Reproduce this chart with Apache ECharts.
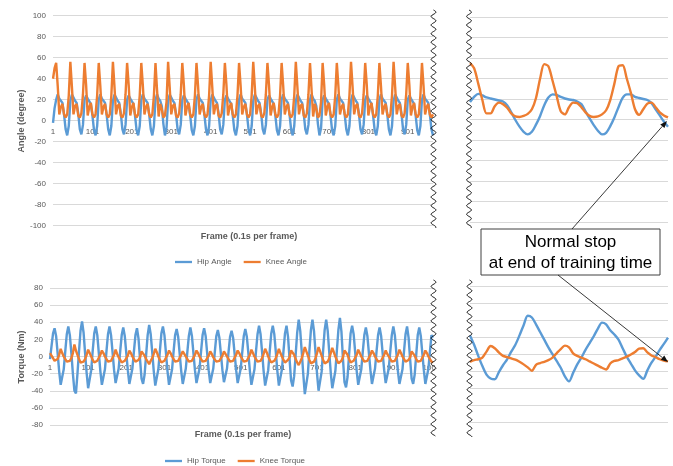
<!DOCTYPE html>
<html><head><meta charset="utf-8">
<script src="https://cdn.jsdelivr.net/npm/echarts@6/dist/echarts.min.js"></script>
<style>html,body{margin:0;padding:0;background:#fff}#c{width:673px;height:466px}</style>
</head><body><div id="c"></div>
<script>
// ---------- DATA ----------
// long-run panels: one sample every 4 frames (frame = 1 + 4*i)
const topTickLabels = ['1','101','201','301','401','501','601','701','801','901'];
const botTickLabels = ['1','101','201','301','401','501','601','701','801','901','1001'];
const topCount = 242, botCount = 252;

const hipAngle = [
 -2,12,
 20,25,21,19,17,6,-8,-14,-5, 19,25,22,19,17,7,-8,-13,-4, 20,24,21,20,16,5,-9,-14,-5,
 20,25,21,19,17,6,-8,-14,-5, 19,25,22,19,17,7,-8,-13,-4, 20,24,21,20,16,5,-9,-14,-5,
 20,25,21,19,17,6,-8,-14,-5, 20,25,21,19,14,-3,-14,-7,
 19,25,22,19,17,7,-8,-13,-4, 20,24,21,20,16,5,-9,-14,-5, 20,25,21,19,17,6,-8,-14,-5,
 19,25,22,19,17,7,-8,-13,-4, 20,24,21,20,16,5,-9,-14,-5, 20,25,21,19,17,6,-8,-14,-5,
 19,25,22,19,17,7,-8,-13,-4, 20,24,21,20,16,5,-9,-14,-5, 20,25,21,19,17,6,-8,-14,-5,
 19,25,22,19,17,7,-8,-13,-4, 20,25,21,19,14,-3,-14,-7,
 20,24,21,20,16,5,-9,-14,-5, 20,25,21,19,17,6,-8,-14,-5, 19,25,22,19,17,7,-8,-13,-4,
 20,24,21,20,16,5,-9,-14,-5, 20,25,21,19,17,6,-8,-14,-5, 19,25,22,19,17,7,-8,-13,-4,
 20,24,21,20,16,5,-9,-14,-5, 20,25,21,19,17,6,-8,-14
];
const kneeAngle = [
 40,50,
 55,33,6,13,16,6,3,6,24, 56,32,6,14,16,5,3,7,25, 55,34,5,13,17,6,3,6,24,
 55,33,6,13,16,6,3,6,24, 56,32,6,14,16,5,3,7,25, 55,34,5,13,17,6,3,6,24,
 55,33,6,13,16,6,3,6,24, 55,29,4,16,11,3,5,18,
 56,32,6,14,16,5,3,7,25, 55,34,5,13,17,6,3,6,24, 55,33,6,13,16,6,3,6,24,
 56,32,6,14,16,5,3,7,25, 55,34,5,13,17,6,3,6,24, 55,33,6,13,16,6,3,6,24,
 56,32,6,14,16,5,3,7,25, 55,34,5,13,17,6,3,6,24, 55,33,6,13,16,6,3,6,24,
 56,32,6,14,16,5,3,7,25, 55,29,4,16,11,3,5,18,
 55,34,5,13,17,6,3,6,24, 55,33,6,13,16,6,3,6,24, 56,32,6,14,16,5,3,7,25,
 55,34,5,13,17,6,3,6,24, 55,33,6,13,16,6,3,6,24, 56,32,6,14,16,5,3,7,25,
 55,34,5,13,17,6,3,6,24, 55,33,6,13,16,6,3,6
];
const hipTorque = [
 -3,12,27,
 33,24,4,-17,-33,-31,-15,6,26, 35,25,4,-20,-40,-43,-20,6,30, 41,28,4,-19,-37,-35,-16,7,27,
 35,25,4,-17,-33,-31,-15,6,26, 35,25,5,-16,-31,-30,-14,6,25, 34,24,4,-16,-32,-30,-14,6,25,
 33,21,-3,-26,-32,-21,2,25,
 37,26,5,-17,-34,-32,-15,6,27, 35,25,4,-17,-33,-31,-15,6,25, 32,23,3,-17,-32,-30,-14,5,24,
 34,24,4,-16,-31,-30,-14,6,25, 33,24,4,-16,-31,-29,-14,5,24, 31,22,3,-16,-30,-29,-14,5,23,
 30,22,3,-16,-31,-29,-14,5,24, 32,23,4,-17,-33,-31,-15,6,26, 36,26,5,-17,-34,-33,-16,6,27,
 36,26,5,-17,-34,-32,-15,6,27,
 36,23,-3,-28,-35,-23,2,28,
 43,30,5,-21,-44,-42,-20,7,31, 43,30,5,-20,-40,-38,-18,7,31, 43,30,5,-19,-37,-35,-17,7,31,
 45,29,-3,-30,-36,-24,2,27,
 36,26,5,-17,-33,-31,-15,6,25, 34,24,4,-16,-32,-30,-14,6,25, 34,24,4,-16,-31,-30,-14,6,25,
 35,25,4,-17,-32,-31,-15,6,26,
 35,22,-3,-26,-32,-21,2,25,
 34,24,4,-16,-32,-30,-14,6,25,
 22
];
const kneeTorque = [
 4,1,-2,
 -5,-6,-3,2,9,4,0,-3,-6, -8,-5,-2,4,14,7,2,-3,-7, -9,-6,-3,2,8,4,0,-4,-7,
 -8,-5,-3,2,7,4,0,-3,-6, -8,-5,-3,2,8,3,-1,-4,-7, -8,-5,-3,1,7,4,0,-3,-6,
 -8,-4,-1,6,7,1,-3,-6,
 -9,-5,-2,3,9,5,0,-4,-7, -8,-5,-3,2,7,4,0,-3,-6, -8,-5,-3,2,6,3,0,-3,-6,
 -8,-5,-3,2,7,4,0,-3,-6, -8,-5,-3,1,6,3,-1,-3,-6, -7,-5,-3,1,6,3,0,-3,-6,
 -7,-5,-3,2,7,4,0,-3,-6, -8,-5,-3,2,8,4,0,-3,-6, -8,-5,-2,3,9,5,0,-4,-7,
 -9,-5,-2,3,9,4,0,-4,-7,
 -9,-4,-1,7,9,2,-3,-7,
 -10,-6,-2,4,11,6,1,-4,-8, -10,-6,-2,4,11,6,1,-4,-8, -10,-6,-2,4,10,5,0,-4,-8,
 -10,-5,-1,7,9,2,-3,-7,
 -9,-5,-3,2,8,4,0,-3,-6, -8,-5,-3,2,7,4,0,-3,-6, -8,-5,-3,2,7,3,0,-3,-6,
 -8,-5,-3,2,8,4,0,-3,-6,
 -8,-4,-1,6,7,1,-3,-6,
 -8,-5,-3,2,7,4,0,-3,-6,
 -7
];
// zoomed end-of-training panels (one sample every 2 frames)
const zoomHipAngle = [17,22,25,23.5,21.5,20.5,19.5,18.5,17.5,14,7,-0.5,-7,-12,-14.5,-12,-5,3.5,14,21.5,24.5,24,22,20.5,19.5,19,17.5,15,8,1,-5.5,-11,-14.5,-13,-6.5,2,12,21,24.5,24.5,22,21,20,19,16,10,4,-2,-7];
const zoomKneeAngle = [55,50,35,19,6,6,13,16.5,15,11.5,6,3,2.5,3.5,5.5,10,21,40,54,52,38,23,8,5,12,16.5,16,12,7,3.5,2.5,3,5,9,19,35,52,53,40,26,10,4.5,10,15.5,16.5,12,7,4,2];
const zoomHipTorque = [22,11,-2,-14,-24,-28.5,-29.5,-21,-13,-6,3,11,22,34,45,43,35,26,17,8,0,-8,-16,-26,-32,-22,-12,-4,5,13,21,30,37,35,28,23,17,7,-3,-11,-19,-25,-29,-19,-10,-3,5,12,19.5];
const zoomKneeTorque = [-9,-7,-6,-4,3,9.5,7,2,-2,-3.5,-5,-6.5,-9,-12,-15.5,-19.5,-12.5,-10.5,-9,-7,-4,1,6,10,8,1,-2,-4,-6,-8.5,-11,-13.5,-16,-18,-11,-8,-7,-5,-3,-0.5,2.5,6.5,7,2,-1.5,-3.5,-6,-7.5,-8.5];

// ---------- CHART ----------
const FONT = '"Liberation Sans", Arial, sans-serif';
const BLUE = '#5B9BD5', ORANGE = '#ED7D31', GRID = '#D9D9D9', TXT = '#595959';
function frameCats(n, step){ const a=[]; for(let i=0;i<n;i++) a.push(String(1+step*i)); return a; }
const topCats = frameCats(topCount, 4), botCats = frameCats(botCount, 4);
const zoomCats = frameCats(zoomHipAngle.length, 2);

// x axis drawn across the middle of the plot (where y = 0)
function xMain(grid, cats, ticks, off){
  return {type:'category', gridIndex:grid, data:cats, boundaryGap:false, offset:off,
    axisLine:{onZero:false, lineStyle:{color:GRID, width:1}}, axisTick:{show:false},
    axisLabel:{interval:(i,v)=>ticks.includes(v), color:TXT, fontSize:8, fontFamily:FONT, margin:7},
    splitLine:{show:false}};
}
function xZoom(grid){
  return {type:'category', gridIndex:grid, data:zoomCats, boundaryGap:false,
    axisLine:{show:false}, axisTick:{show:false}, axisLabel:{show:false}, splitLine:{show:false}};
}
function yAx(grid, lim, showLabel){
  return {type:'value', gridIndex:grid, min:-lim, max:lim, interval:20,
    axisLine:{show:false}, axisTick:{show:false},
    axisLabel:{show:showLabel, color:TXT, fontSize:8, fontFamily:FONT, margin:7},
    splitLine:{lineStyle:{color:GRID, width:1}}};
}
function ser(name, data, color, xi, smooth){
  return {name, type:'line', data, xAxisIndex:xi, yAxisIndex:xi, showSymbol:false, symbol:'none',
    smooth: smooth||false, lineStyle:{color, width:2.4}, itemStyle:{color}, animation:false};
}
function wave(x, y0, y1){
  const pts=[]; for(let y=y0;y<=y1;y+=0.5) pts.push([x+2.4*Math.sin((y-y0)/8.6*2*Math.PI), y]);
  return {type:'polyline', z:100, shape:{points:pts, smooth:0}, style:{stroke:'#111', lineWidth:1, fill:null}};
}
function arrow(x0,y0,x1,y1){
  const dx=x1-x0, dy=y1-y0, L=Math.hypot(dx,dy), ux=dx/L, uy=dy/L, h=7, w=2.8;
  const bx=x1-ux*h, by=y1-uy*h;
  return [
    {type:'line', z:120, shape:{x1:x0,y1:y0,x2:bx,y2:by}, style:{stroke:'#222', lineWidth:0.9}},
    {type:'polygon', z:120, shape:{points:[[x1,y1],[bx-uy*w,by+ux*w],[bx+uy*w,by-ux*w]]}, style:{fill:'#111'}}
  ];
}
function label(text, x, y, rot){
  return {type:'text', z:100, x, y, rotation:rot||0,
    style:{text, fill:TXT, font:'bold 9px '+FONT, textAlign:'center', textVerticalAlign:'middle'}};
}

const chart = echarts.init(document.getElementById('c'));
chart.setOption({
  animation:false,
  backgroundColor:'#fff',
  textStyle:{fontFamily:FONT},
  grid:[
    {left:53, top:15.7, width:380, height:210},
    {left:50, top:288, width:383, height:137},
    {left:470, top:17, width:198, height:205},
    {left:470, top:286, width:198, height:136.3}
  ],
  xAxis:[xMain(0, topCats, topTickLabels, -105), xMain(1, botCats, botTickLabels, -68.5), xZoom(2), xZoom(3)],
  yAxis:[yAx(0,100,true), yAx(1,80,true), yAx(2,100,false), yAx(3,80,false)],
  legend:[
    {data:['Hip Angle','Knee Angle'], left:170, top:253, icon:'rect', itemWidth:17, itemHeight:2.3, itemGap:12,
     textStyle:{color:TXT, fontSize:8, fontFamily:FONT}},
    {data:['Hip Torque','Knee Torque'], left:160, top:452, icon:'rect', itemWidth:17, itemHeight:2.3, itemGap:12,
     textStyle:{color:TXT, fontSize:8, fontFamily:FONT}}
  ],
  series:[
    ser('Hip Angle', hipAngle, BLUE, 0),
    ser('Knee Angle', kneeAngle, ORANGE, 0),
    ser('Hip Torque', hipTorque, BLUE, 1),
    ser('Knee Torque', kneeTorque, ORANGE, 1),
    ser('Hip Angle ', zoomHipAngle, BLUE, 2, 0.3),
    ser('Knee Angle ', zoomKneeAngle, ORANGE, 2, 0.3),
    ser('Hip Torque ', zoomHipTorque, BLUE, 3, 0.3),
    ser('Knee Torque ', zoomKneeTorque, ORANGE, 3, 0.3)
  ],
  graphic:[
    {type:'rect', z:90, shape:{x:435, y:360, width:26, height:14}, style:{fill:'#fff'}},
    wave(433.5, 10, 228), wave(469, 10, 228), wave(433.5, 280, 436), wave(469.5, 280, 437),
    label('Angle (degree)', 21.5, 121, Math.PI/2),
    label('Torque (Nm)', 21.5, 357, Math.PI/2),
    label('Frame (0.1s per frame)', 249, 237),
    label('Frame (0.1s per frame)', 243, 435),
    {type:'rect', z:110, shape:{x:481, y:229, width:179, height:46}, style:{fill:'#fff', stroke:'#404040', lineWidth:1}},
    {type:'text', z:111, x:570.5, y:242, style:{text:'Normal stop', fill:'#000', font:'17px '+FONT, textAlign:'center', textVerticalAlign:'middle'}},
    {type:'text', z:111, x:570.5, y:263, style:{text:'at end of training time', fill:'#000', font:'17px '+FONT, textAlign:'center', textVerticalAlign:'middle'}},
    ...arrow(572, 229, 667, 121),
    ...arrow(558, 275, 668, 362)
  ]
});
</script></body></html>
